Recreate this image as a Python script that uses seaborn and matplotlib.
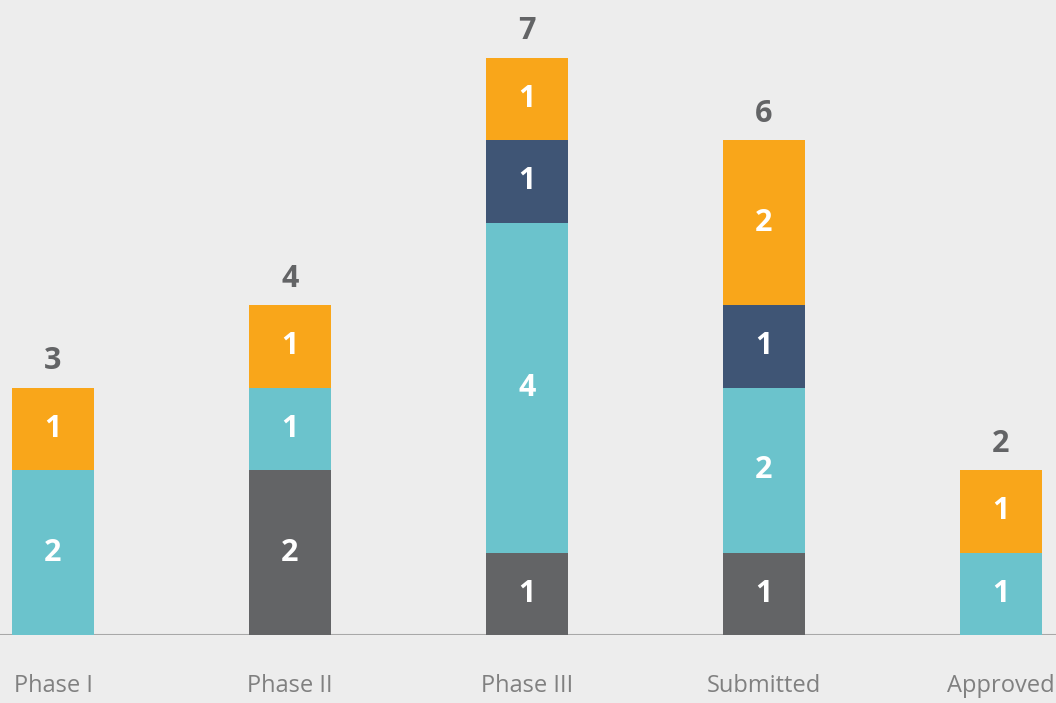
import numpy as np
import pandas as pd
import matplotlib
matplotlib.use('Agg')
import matplotlib.pyplot as plt
import seaborn as sns

# data
stages = ['Phase I', 'Phase II', 'Phase III', 'Submitted', 'Approved']
grey_vals = [0, 2, 1, 1, 0]
teal_vals = [2, 1, 4, 2, 1]
navy_vals = [0, 0, 1, 1, 0]
orange_vals = [1, 1, 1, 2, 1]

layers = [('grey', grey_vals, '#636466'),
          ('teal', teal_vals, '#6bc3cc'),
          ('navy', navy_vals, '#3f5575'),
          ('orange', orange_vals, '#f9a61a')]

sns.set_style('white')
plt.rcParams['font.family'] = ['Open Sans', 'DejaVu Sans']

fig = plt.figure(figsize=(10.56, 7.03), dpi=100, facecolor='#ededed')
ax = fig.add_axes([0, 0.0967, 1, 0.9033])
ax.set_facecolor('#ededed')

df = pd.DataFrame({'stage': stages})
cum = np.zeros(len(stages))
tops = []
for name, vals, col in layers:
    cum = cum + np.array(vals)
    tops.append((name, cum.copy(), np.array(vals), col))

# draw from tallest cumulative down so lower layers cover upper ones
for name, top, vals, col in reversed(tops):
    d = df.copy()
    d['top'] = top
    sns.barplot(data=d, x='stage', y='top', color=col, width=0.346,
                saturation=1, linewidth=0, edgecolor='none', ax=ax, order=stages)

# segment labels
for name, top, vals, col in tops:
    for i, v in enumerate(vals):
        if v > 0:
            ax.text(i, top[i] - v / 2, str(v), ha='center', va='center',
                    color='white', fontsize=22, fontweight='bold')

totals = tops[-1][1]
for i, t in enumerate(totals):
    ax.text(i, t + 0.32, str(int(t)), ha='center', va='center',
            color='#636466', fontsize=22, fontweight='bold')

ax.axhline(0, color='#a8a8a8', lw=1.5, zorder=0)
ax.set_xlim(-53 / 237, 4 + 55 / 237)
ax.set_ylim(0, 635 / 82.5)
ax.set_xlabel('')
ax.set_ylabel('')
ax.set_yticks([])
ax.tick_params(axis='x', length=0, pad=28, labelsize=17, labelcolor='#808080')
for s in ax.spines.values():
    s.set_visible(False)

fig.savefig('out.png', dpi=100, facecolor='#ededed')
